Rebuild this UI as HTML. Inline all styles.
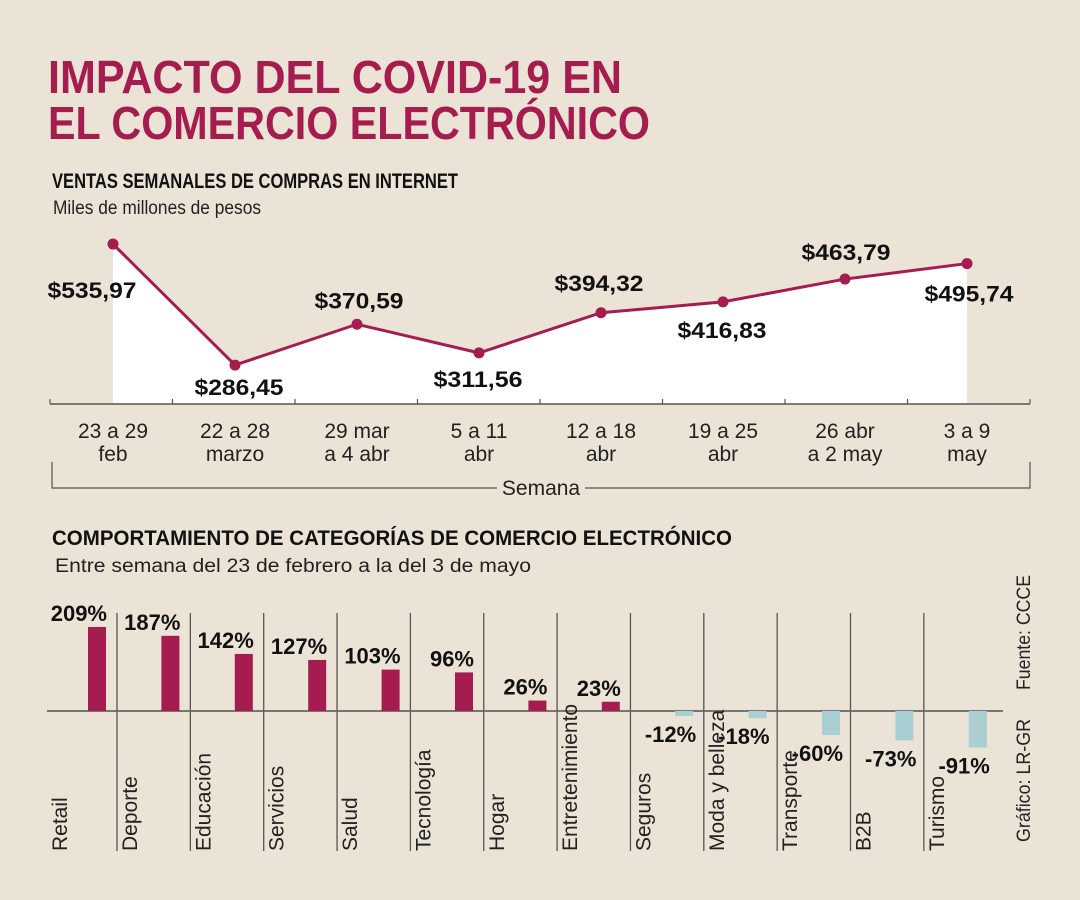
<!DOCTYPE html>
<html><head><meta charset="utf-8"><style>
body{margin:0;background:#ebe3d6;}
svg{display:block;font-family:"Liberation Sans Narrow","Liberation Sans",sans-serif;}
</style></head><body>
<svg id="c" width="1080" height="900" viewBox="0 0 1080 900">
<rect width="1080" height="900" fill="#ebe3d6"/>
<text x="48" y="93" font-size="46" font-weight="bold" fill="#a51c4f" textLength="574" lengthAdjust="spacingAndGlyphs">IMPACTO DEL COVID-19 EN</text>
<text x="48" y="139" font-size="46" font-weight="bold" fill="#a51c4f" textLength="602" lengthAdjust="spacingAndGlyphs">EL COMERCIO ELECTRÓNICO</text>
<text x="52" y="188" font-size="21" font-weight="bold" fill="#111" textLength="406" lengthAdjust="spacingAndGlyphs">VENTAS SEMANALES DE COMPRAS EN INTERNET</text>
<text x="53" y="214" font-size="19" fill="#222" textLength="208" lengthAdjust="spacingAndGlyphs">Miles de millones de pesos</text>
<g id="line"></g>
<text x="52" y="545" font-size="21" font-weight="bold" fill="#111" textLength="680" lengthAdjust="spacingAndGlyphs">COMPORTAMIENTO DE CATEGORÍAS DE COMERCIO ELECTRÓNICO</text>
<text x="55" y="572" font-size="19" fill="#222" textLength="476" lengthAdjust="spacingAndGlyphs">Entre semana del 23 de febrero a la del 3 de mayo</text>
<g id="bars"></g>
<text transform="translate(1030,690) rotate(-90)" font-size="19" fill="#222" textLength="115" lengthAdjust="spacingAndGlyphs">Fuente: CCCE</text>
<text transform="translate(1030,842) rotate(-90)" font-size="19" fill="#222" textLength="123" lengthAdjust="spacingAndGlyphs">Gráfico: LR-GR</text>
</svg>
<script>
const weeks1=["23 a 29","22 a 28","29 mar","5 a 11","12 a 18","19 a 25","26 abr","3 a 9"];
const weeks2=["feb","marzo","a 4 abr","abr","abr","abr","a 2 may","may"];
const sales=[535.97,286.45,370.59,311.56,394.32,416.83,463.79,495.74];
const salesLabels=["$535,97","$286,45","$370,59","$311,56","$394,32","$416,83","$463,79","$495,74"];
const categories=["Retail","Deporte","Educación","Servicios","Salud","Tecnología","Hogar","Entretenimiento","Seguros","Moda y belleza","Transporte","B2B","Turismo"];
const changes=[209,187,142,127,103,96,26,23,-12,-18,-60,-73,-91];
const changeLabels=["209%","187%","142%","127%","103%","96%","26%","23%","-12%","-18%","-60%","-73%","-91%"];

const NS="http://www.w3.org/2000/svg";
function mk(p,t,a){const e=document.createElementNS(NS,t);for(const k in a)e.setAttribute(k,a[k]);p.appendChild(e);return e;}
const CR="#a51c4f";
const L=document.getElementById('line');
const xL=i=>113+i*122.0;
const yL=v=>504-v*0.485;
const axY=404;
let d=`M${xL(0)},${axY}`;
sales.forEach((v,i)=>d+=` L${xL(i)},${yL(v)}`);
d+=` L${xL(sales.length-1)},${axY} Z`;
const area=mk(L,'path',{d:d,fill:'#fff'});


const ax=mk(L,'line',{x1:50,x2:1030,y1:axY,y2:axY,stroke:'#555','stroke-width':1.5});


for(let i=0;i<=sales.length;i++){const tx=50+i*122.5;const t=mk(L,'line',{x1:tx,x2:tx,y1:axY,y2:axY-5,stroke:'#555','stroke-width':1.2});

}
const pl=mk(L,'polyline',{points:sales.map((v,i)=>xL(i)+','+yL(v)).join(' '),fill:'none',stroke:CR,'stroke-width':3});


const off=[[-21,54],[4,30],[2,-16],[-1,34],[-2,-22],[-1,36],[1,-19],[2,38]];
sales.forEach((v,i)=>{
 const c=mk(L,'circle',{cx:xL(i),cy:yL(v),r:5.5,fill:CR});
 
 
 const t=mk(L,'text',{x:xL(i)+off[i][0],y:yL(v)+off[i][1],'font-family':'Liberation Sans, sans-serif','font-size':22,'font-weight':'bold','text-anchor':'middle',fill:'#111',textLength:89,lengthAdjust:'spacingAndGlyphs'});
 t.textContent=salesLabels[i];
 
 
 const a=mk(L,'text',{x:xL(i),y:438,'font-size':21,'text-anchor':'middle',fill:'#222'});a.textContent=weeks1[i];
 
 
 const b=mk(L,'text',{x:xL(i),y:461,'font-size':21,'text-anchor':'middle',fill:'#222'});b.textContent=weeks2[i];
 
 
});
const br=mk(L,'path',{d:'M52,462 V488 H497 M585,488 H1030 V462',fill:'none',stroke:'#555','stroke-width':1.2});


const sm=mk(L,'text',{x:541,y:495,'font-size':21,'text-anchor':'middle',fill:'#222'});sm.textContent='Semana';



const B=document.getElementById('bars');
const base=711;
const xB=i=>97+i*73.4;
const yB=v=>base-v*0.402;
for(let i=1;i<categories.length;i++){const dx=117+(i-1)*73.35;
 const l=mk(B,'line',{x1:dx,x2:dx,y1:613,y2:851,stroke:'#555','stroke-width':1.3});
 
 }
const ba=mk(B,'line',{x1:47,x2:1003,y1:base,y2:base,stroke:'#666','stroke-width':1.8});


changes.forEach((v,i)=>{
 const x=xB(i);
 const r=mk(B,'rect',{x:x-9,y:Math.min(yB(v),base),width:18,height:Math.abs(yB(v)-base),fill:v>=0?CR:'#a9cfd3'});
 
 
 const t=mk(B,'text',{x:x+(v>=0?10:12),y:v>=0?yB(v)-6:yB(v)+26,'font-size':22,'font-weight':'bold','text-anchor':'end',fill:'#111'});
 t.textContent=changeLabels[i];
 
 
 const lx=(i===0?48:117+(i-1)*73.35+1)+19;
 const c=mk(B,'text',{transform:`translate(${lx},851) rotate(-90)`,'font-size':21,fill:'#222'});
 c.textContent=categories[i];
 
 
});
</script>
</body></html>
